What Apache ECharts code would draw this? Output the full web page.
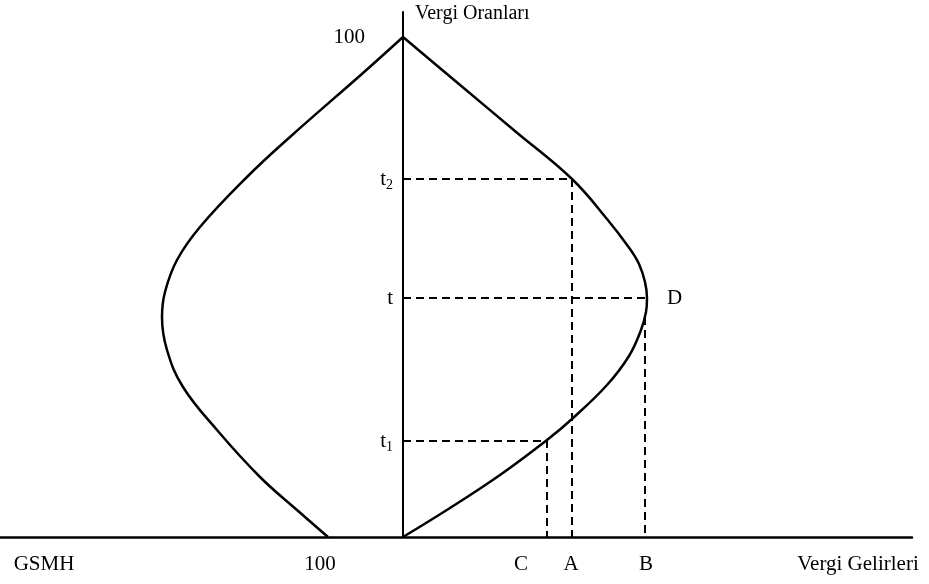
<!DOCTYPE html>
<html>
<head>
<meta charset="utf-8">
<script src="https://cdn.jsdelivr.net/npm/echarts@6/dist/echarts.min.js"></script>
<style>
  html, body { margin: 0; padding: 0; background: #fff; }
  #main { width: 929px; height: 584px; }
</style>
</head>
<body>
<div id="main"></div>
<script>
// Laffer curve sketch: tax rate (vertical) vs revenue (right) and GNP (left)
const rightCurve = [
  [0, 100], [11, 90.75], [22.5, 81.1], [33.8, 71.6], [40.8, 63.6],
  [45.4, 57.6], [47.2, 54.6], [48.4, 51], [48.8, 47.8], [48.6, 45],
  [47.6, 41.4], [45.2, 36.2], [40.8, 30.4], [33.8, 23.6], [28.8, 19.4],
  [19.4, 12.4], [9.4, 5.8], [0, 0]
];
const leftCurve = [
  [0, 100], [-8, 92.8], [-22.6, 80], [-31.2, 72], [-40.6, 62], [-45.2, 55.4],
  [-47.6, 49], [-48.2, 44], [-47.2, 37.4], [-44, 30], [-37.2, 21.4],
  [-28.6, 12], [-21.2, 5.4], [-15, 0]
];

// rate levels t1, t, t2 and the revenues C, A, B
const rateTicks = [19.2, 47.8, 71.6, 100];
const rateLabels = ["t1", "t", "t2", "100"];
const revenueC = 28.8;
const revenueA = 33.8;
const revenueB = 48.4;
const peakRevenue = 48.8;

const revenueTicks = [-71.8, -16.6, 23.6, 33.6, 48.6, 91];
const revenueLabels = ["GSMH", "100", "C", "A", "B", "Vergi Gelirleri"];

const font = "Liberation Serif";
const dashed = { color: "#000", width: 2, type: [8, 5] };

function dashedSeries(points) {
  return {
    type: "line",
    data: points,
    symbol: "none",
    lineStyle: dashed,
    silent: true,
  };
}

const chart = echarts.init(document.getElementById("main"));
chart.setOption({
  animation: false,
  backgroundColor: "#fff",
  grid: { left: 0, right: 17, top: 12, bottom: 47, outerBoundsMode: "none", containLabel: false },
  xAxis: {
    type: "value",
    min: -80.6,
    max: 101.8,
    splitLine: { show: false },
    axisTick: { show: false },
    axisLine: { show: true, onZero: false, lineStyle: { color: "#000", width: 2.5 } },
    axisLabel: {
      customValues: revenueTicks,
      formatter: (v) => revenueLabels[revenueTicks.indexOf(v)],
      color: "#000",
      fontFamily: font,
      fontSize: 21,
      margin: 17,
    },
  },
  yAxis: {
    type: "value",
    min: 0,
    max: 105,
    position: "left",
    offset: -403,
    name: "Vergi Oranları",
    nameLocation: "end",
    nameGap: -2,
    nameTextStyle: {
      color: "#000",
      fontFamily: font,
      fontSize: 20,
      align: "left",
      verticalAlign: "middle",
      padding: [0, 0, 0, 12],
    },
    splitLine: { show: false },
    axisTick: { show: false },
    axisLine: { show: true, onZero: false, lineStyle: { color: "#000", width: 2 } },
    axisLabel: {
      customValues: rateTicks,
      formatter: (v) => {
        const s = rateLabels[rateTicks.indexOf(v)];
        if (s === "100") return "{h|100}";
        if (s.length > 1) return "{t|t}{s|" + s.slice(1) + "}";
        return "{t|t}";
      },
      margin: 10,
      rich: {
        h: { color: "#000", fontFamily: font, fontSize: 21, padding: [0, 28, 0, 0] },
        t: { color: "#000", fontFamily: font, fontSize: 21 },
        s: { color: "#000", fontFamily: font, fontSize: 14, padding: [12, 0, 0, 0] },
      },
    },
  },
  series: [
    dashedSeries([[0, rateTicks[2]], [revenueA, rateTicks[2]], [revenueA, 0]]),
    dashedSeries([[0, rateTicks[1]], [peakRevenue, rateTicks[1]]]),
    dashedSeries([[revenueB, 44], [revenueB, 0]]),
    dashedSeries([[0, rateTicks[0]], [revenueC, rateTicks[0]], [revenueC, 0]]),
    {
      type: "scatter",
      data: [[peakRevenue, rateTicks[1]]],
      symbolSize: 0,
      itemStyle: { color: "#000", opacity: 1 },
      label: {
        show: true,
        formatter: "D",
        position: "right",
        distance: 20,
        color: "#000",
        opacity: 1,
        fontFamily: font,
        fontSize: 21,
      },
      silent: true,
    },
    {
      type: "line",
      data: rightCurve,
      smooth: 0.4,
      symbol: "none",
      lineStyle: { color: "#000", width: 2.5 },
    },
    {
      type: "line",
      data: leftCurve,
      smooth: 0.4,
      symbol: "none",
      lineStyle: { color: "#000", width: 2.5 },
    },
  ],
});
</script>
</body>
</html>
